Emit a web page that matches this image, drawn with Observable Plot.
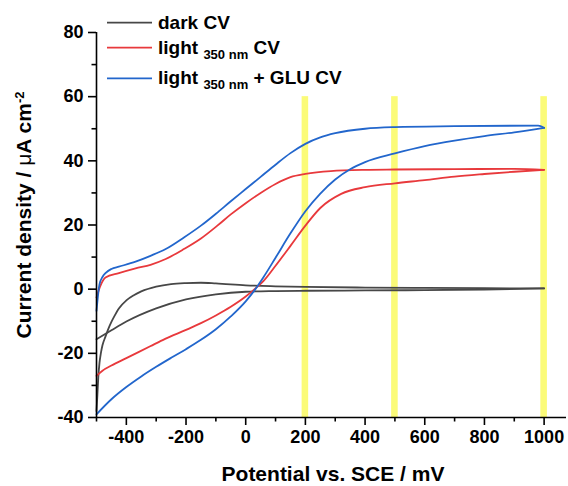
<!DOCTYPE html>
<html><head><meta charset="utf-8">
<script src="https://cdn.jsdelivr.net/npm/d3@7"></script>
<script src="https://cdn.jsdelivr.net/npm/@observablehq/plot@0.6"></script>
<style>
body{margin:0;background:#fff}
#chart{width:568px;height:486px}
</style>
</head><body><div id="chart"></div>
<script>
// ---- data (potential in mV, current density in µA cm^-2) ----
const seriesNames = ["dark CV", "light 350 nm CV", "light 350 nm + GLU CV"];
const seriesColors = ["#474747", "#e8393c", "#2266cc"];

// forward (anodic) and reverse (cathodic) branches of each cyclic voltammogram
const darkFwdV = [-500, -450, -400, -300, -200, -100, 0, 100, 200, 400, 600, 800, 1000];
const darkFwdI = [-15.6, -12.8, -10.1, -6, -3.2, -1.6, -0.8, -0.6, -0.5, -0.4, -0.3, -0.1, 0.25];
const darkRevV = [1000, 800, 600, 400, 200, 100, 0, -100, -150, -200, -250, -300, -350, -375, -400, -425, -440, -450, -460, -470, -480, -485, -490, -494, -497, -500];
const darkRevI = [0.25, 0.3, 0.4, 0.5, 0.7, 0.9, 1.2, 1.8, 2.0, 1.9, 1.6, 0.8, -0.7, -1.9, -3.5, -6, -8.4, -10.2, -12.3, -14.8, -17.5, -19.8, -23, -27.5, -33, -38];

const redFwdV = [-500, -480, -450, -400, -320, -270, -200, -150, -100, -50, 0, 30, 60, 100, 150, 200, 250, 320, 400, 500, 600, 700, 800, 900, 1000];
const redFwdI = [-27, -25.4, -23.8, -21.5, -17.8, -15.5, -12.7, -10.6, -8.2, -5.5, -2.3, 0, 2.6, 7.3, 13.5, 19.8, 25.3, 29.7, 31.8, 33, 34, 35.1, 35.9, 36.6, 37.2];
const redRevV = [1000, 900, 700, 500, 400, 285, 200, 150, 100, 50, 0, -50, -95, -150, -207, -268, -319, -369, -425, -470, -487, -500];
const redRevI = [37.2, 37.5, 37.4, 37.3, 37.2, 36.8, 35.9, 34.9, 32.8, 30, 26.8, 23.3, 19.8, 15.8, 12.5, 9.4, 7.6, 6.5, 5.0, 3.6, 1, -2.6];

const bluFwdV = [-500, -450, -400, -350, -300, -250, -200, -150, -100, -50, 0, 30, 60, 100, 150, 200, 250, 300, 350, 400, 500, 600, 700, 800, 900, 1000];
const bluFwdI = [-39, -34.3, -30.5, -27.2, -24.2, -21.4, -18.7, -15.8, -12.5, -8.5, -3.8, -0.3, 3.8, 9.8, 17.4, 24.3, 29.8, 34.2, 37.4, 39.6, 42.3, 44.6, 46.3, 47.7, 48.9, 50.3];
const bluRevV = [1000, 980, 700, 500, 400, 300, 250, 200, 150, 100, 50, 0, -50, -100, -150, -207, -268, -319, -369, -425, -450, -470, -480, -490, -500];
const bluRevI = [50.3, 51, 50.8, 50.5, 50, 48.6, 47.3, 45.3, 42.4, 38.8, 35, 31.2, 27.4, 23.5, 19.8, 16.1, 12.5, 10.4, 8.6, 7.0, 6.3, 5.0, 3.8, 1.5, -6.8];

const bandCenters = [200, 500, 1000];
const bandTop = 60, bandBottom = -40;

const xMajor = [-400, -200, 0, 200, 400, 600, 800, 1000];
const xMinor = [-500, -300, -100, 100, 300, 500, 700, 900];
const yMajor = [-40, -20, 0, 20, 40, 60, 80];
const yMinor = [-30, -10, 10, 30, 50, 70];

// ---- build table ----
function branch(name, part, color, vs, is) {
  return vs.map((v, k) => ({s: name, b: name + "|" + part, color, v, i: is[k]}))
    .sort((a, b) => a.v - b.v);
}
const rows = [
  ...branch(seriesNames[0], "f", seriesColors[0], darkFwdV, darkFwdI),
  ...branch(seriesNames[0], "r", seriesColors[0], darkRevV, darkRevI),
  ...branch(seriesNames[1], "f", seriesColors[1], redFwdV, redFwdI),
  ...branch(seriesNames[1], "r", seriesColors[1], redRevV, redRevI),
  ...branch(seriesNames[2], "f", seriesColors[2], bluFwdV, bluFwdI),
  ...branch(seriesNames[2], "r", seriesColors[2], bluRevV, bluRevI)
];

const FONT = "'Liberation Sans', Arial, Helvetica, sans-serif";
const fmt = d => String(d);

const plot = Plot.plot({
  width: 568, height: 486,
  marginLeft: 96, marginRight: 2, marginTop: 32, marginBottom: 69,
  x: {domain: [-500, 1075]},
  y: {domain: [-40, 80]},
  style: {fontFamily: FONT, fontSize: "18px", fontWeight: "bold", color: "#000", background: "#fff", overflow: "visible"},
  marks: [
    Plot.rect(bandCenters, {x1: d => d - 11, x2: d => d + 11, y1: bandBottom, y2: bandTop, fill: "#fbfb78"}),
    Plot.line(rows, {x: "v", y: "i", z: "b", stroke: "color", strokeWidth: 1.8, curve: "monotone-x"}),
    Plot.ruleX([-500], {stroke: "#000", strokeWidth: 1.6}),
    Plot.ruleY([-40], {stroke: "#000", strokeWidth: 1.6}),
    Plot.axisX({ticks: xMajor, tickSize: 8, tickPadding: 5, tickFormat: fmt, label: null, strokeWidth: 1.6, stroke: "#000"}),
    Plot.axisX({ticks: xMinor, tickSize: 4.5, tickFormat: () => "", label: null, strokeWidth: 1.6, stroke: "#000"}),
    Plot.axisY({ticks: yMajor, tickSize: 8, tickPadding: 5, tickFormat: fmt, label: null, strokeWidth: 1.6, stroke: "#000"}),
    Plot.axisY({ticks: yMinor, tickSize: 4.5, tickFormat: () => "", label: null, strokeWidth: 1.6, stroke: "#000"})
  ]
});
document.getElementById("chart").appendChild(plot);

// ---- axis titles & legend ----
const svg = d3.select(plot);
svg.append("text")
  .attr("x", 333).attr("y", 481)
  .attr("text-anchor", "middle")
  .style("font-size", "21px").style("font-weight", "bold").style("font-family", FONT)
  .text("Potential vs. SCE / mV");

const yl = svg.append("text")
  .attr("transform", "translate(31,215) rotate(-90)")
  .attr("text-anchor", "middle")
  .style("font-size", "21px").style("font-weight", "bold").style("font-family", FONT);
yl.append("tspan").text("Current density / ");
yl.append("tspan").style("font-weight", "normal").text("\u03bc");
yl.append("tspan").text("A cm");
yl.append("tspan").attr("dy", "-0.55em").style("font-size", "13px").text("-2");

const legendRows = [22.7, 47.7, 78.3];
const lg = svg.append("g").style("font-family", FONT).style("font-weight", "bold");
seriesNames.forEach((name, k) => {
  const y = legendRows[k];
  lg.append("line").attr("x1", 107).attr("x2", 152).attr("y1", y).attr("y2", y)
    .attr("stroke", seriesColors[k]).attr("stroke-width", 1.8);
  const t = lg.append("text").attr("x", 158).attr("y", y + 6)
    .attr("text-anchor", "start").style("font-size", "19px");
  if (k === 0) {
    t.text(name);
  } else {
    t.append("tspan").text("light ");
    t.append("tspan").attr("dy", 5).style("font-size", "13px").text("350 nm");
    t.append("tspan").attr("dy", -5).text(k === 1 ? " CV" : " + GLU CV");
  }
});
</script>
</body></html>
